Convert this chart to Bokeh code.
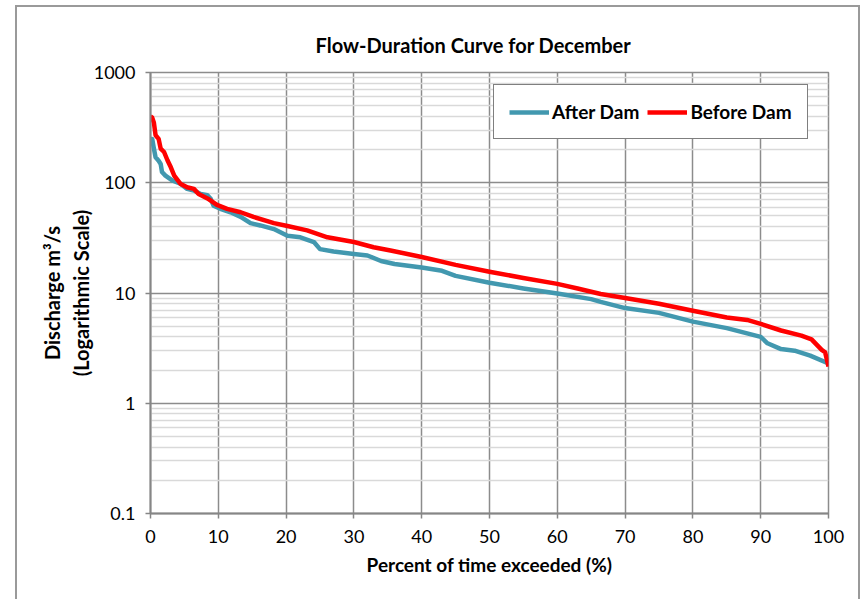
from bokeh.plotting import figure
from bokeh.models import FixedTicker, Legend, LegendItem
from bokeh.embed import file_html
from bokeh.resources import INLINE

# ---- data ----
pct_before = [0, 0.25, 0.5, 0.75, 1.2, 1.5, 2.0, 2.5, 3.0, 3.5, 4.4, 5.4, 6.4, 7.1, 8.4,
              9.8, 11.3, 13.3, 15.2, 18.2, 20.2, 23.1, 26.1, 30, 32.9, 35.4, 40, 45,
              50, 55, 60, 63, 66.4, 70, 75, 80, 85, 88, 90, 93, 96, 97.5, 99, 99.5, 100]
q_before = [400, 390, 350, 270, 250, 204, 190, 160, 138, 116, 98, 91, 88, 79, 72,
            63, 58, 54, 49, 43, 40.5, 37, 32, 29, 26, 24.3, 21.2, 18,
            15.6, 13.7, 12.1, 11, 9.8, 9.0, 8.0, 6.9, 6.0, 5.7, 5.25, 4.57, 4.1, 3.8, 3.05, 2.9, 2.15]

pct_after = [0, 0.25, 0.5, 0.75, 1.2, 1.5, 1.7, 2.2, 3.2, 4.4, 5.4, 6.4, 7.4, 8.4, 8.85,
             9.3, 10.3, 11.8, 13.3, 14.75, 16.2, 18.2, 20.2, 22.1, 24.1, 25, 27, 30,
             32, 34, 36, 40, 43, 45, 50, 55, 60, 65, 66.4, 70, 75, 80, 85, 90, 91,
             93, 95, 97.3, 100]
q_after = [250, 250, 204, 170, 158, 148, 125, 116, 105, 98, 88, 85, 79, 77, 72,
           62, 58, 54, 49, 43, 41, 38, 33, 32, 29, 25, 23.8, 22.6,
           21.9, 19.5, 18.3, 17, 15.9, 14.3, 12.4, 11, 9.9, 8.8, 8.3, 7.3, 6.6, 5.5, 4.8, 4.0, 3.5,
           3.1, 3.0, 2.7, 2.3]

x_ticks = [0, 10, 20, 30, 40, 50, 60, 70, 80, 90, 100]
y_ticks = [0.1, 1, 10, 100, 1000]
y_tick_labels = ["0.1", "1", "10", "100", "1000"]
y_minor = [m * d for d in (0.1, 1, 10, 100) for m in range(2, 10)]

title_text = "Flow-Duration Curve for December"
x_label = "Percent of time exceeded (%)"
y_label = "Discharge m\u00b3/s\n(Logarithmic Scale)"
series_names = ["After Dam", "Before Dam"]
series_colors = ["#4298AF", "#FF0000"]

GRID = "#8C8C8C"
MINOR = "#D9D9D9"
FONT = "Lato"

p = figure(width=845, height=594, y_axis_type="log", x_range=(0, 100), y_range=(0.1, 1000),
           output_backend="svg", toolbar_location=None,
           min_border_left=133, min_border_right=34, min_border_top=65, min_border_bottom=88)

p.styles = {"margin-left": "15px",
            "margin-top": "5px",
            "border-left": "2px solid #9A9A9A",
            "border-top": "2px solid #9A9A9A",
            "border-right": "2px solid #9A9A9A"}

p.background_fill_color = "white"
p.border_fill_color = "white"
p.outline_line_color = GRID
p.outline_line_width = 1.5

# title
p.title.text = title_text
p.title.align = "left"
p.title.offset = 165
p.title.vertical_align = "middle"
p.title.text_font = FONT
p.title.text_font_style = "bold"
p.title.text_font_size = "20px"
p.title.text_color = "black"
p.title.standoff = 30

# axes
p.xaxis.ticker = FixedTicker(ticks=x_ticks)
p.yaxis.ticker = FixedTicker(ticks=y_ticks, minor_ticks=y_minor)
p.yaxis.major_label_overrides = {t: s for t, s in zip(y_ticks, y_tick_labels)}
for ax in (p.xaxis, p.yaxis):
    ax.axis_line_color = "#868686"
    ax.axis_line_width = 2
    ax.major_tick_line_color = "#868686"
    ax.major_tick_line_width = 1.5
    ax.major_tick_in = 0
    ax.major_tick_out = 5
    ax.minor_tick_line_color = None
    ax.major_label_text_font = FONT
    ax.major_label_text_font_size = "18px"
    ax.major_label_text_color = "black"
    ax.axis_label_text_font = FONT
    ax.axis_label_text_font_style = "bold"
    ax.axis_label_text_color = "black"

p.xaxis.axis_label = x_label
p.yaxis.axis_label = y_label
p.xaxis.axis_label_text_font_size = "19px"
p.yaxis.axis_label_text_font_size = "20px"
p.yaxis.axis_label_text_line_height = 1.2
p.yaxis.major_label_standoff = 10
p.xaxis.major_label_standoff = 11
p.yaxis.axis_label_standoff = -2
p.xaxis.axis_label_standoff = 7

# grids
p.xgrid.grid_line_color = GRID
p.xgrid.grid_line_width = 1.5
p.ygrid.grid_line_color = GRID
p.ygrid.grid_line_width = 1.5
p.ygrid.minor_grid_line_color = MINOR
p.ygrid.minor_grid_line_width = 1.5

# series
r_after = p.line(pct_after, q_after, line_color=series_colors[0], line_width=4.5, line_join="round")
r_before = p.line(pct_before, q_before, line_color=series_colors[1], line_width=4.5, line_join="round")

legend = Legend(items=[LegendItem(label=series_names[0], renderers=[r_after]),
                       LegendItem(label=series_names[1], renderers=[r_before])],
                orientation="horizontal", location=(343, 374))
legend.border_line_color = "black"
legend.border_line_width = 1
legend.background_fill_color = "white"
legend.background_fill_alpha = 1
legend.padding = 15
legend.spacing = 8
legend.margin = 0
legend.glyph_width = 40
legend.glyph_height = 16
legend.label_standoff = 3
legend.label_text_font = FONT
legend.label_text_font_style = "bold"
legend.label_text_font_size = "19px"
legend.label_text_color = "black"
p.add_layout(legend)

open("out.html", "w").write(file_html(p, INLINE, title_text))
